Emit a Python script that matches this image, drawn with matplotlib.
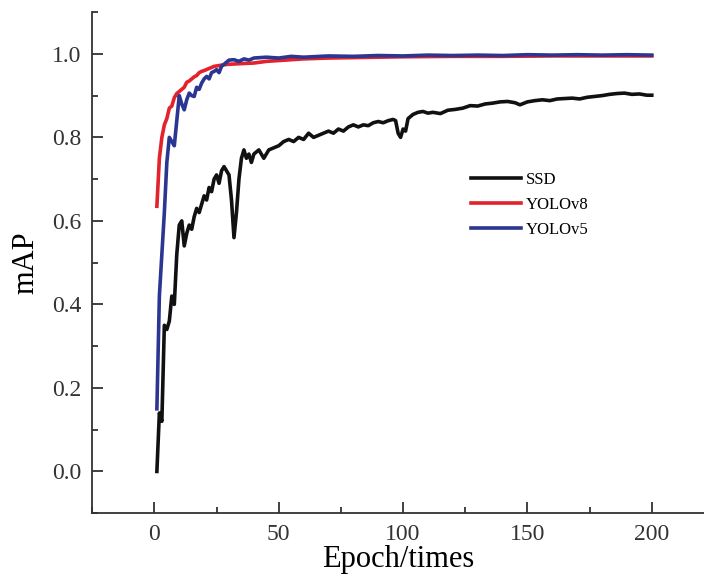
import matplotlib
matplotlib.use("Agg")
import matplotlib.pyplot as plt
from matplotlib.ticker import MultipleLocator

plt.rcParams["font.family"] = ["Liberation Serif", "DejaVu Serif"]

# SSD
ssd_epoch = [1, 2, 3, 4, 5, 6, 7, 8, 9, 10, 11, 12, 13, 14, 15, 16, 17, 18, 19, 20,
             21, 22, 23, 24, 25, 26, 27, 28, 29, 30, 31, 32, 33, 34, 35, 36, 37, 38, 39, 40,
             42, 44, 46, 48, 50, 52, 54, 56, 58, 60, 62, 64, 66, 68, 70, 72, 74, 76, 78, 80,
             82, 84, 86, 88, 90, 92, 94, 96, 97, 98, 99, 100, 101, 102, 104, 106, 108, 110, 112, 115,
             118, 121, 124, 127, 130, 133, 136, 139, 142, 145, 147, 150, 153, 156, 159, 162, 165, 168, 171, 174,
             177, 180, 183, 186, 189, 192, 195, 198, 200]
ssd_map = [0.00, 0.14, 0.12, 0.35, 0.34, 0.36, 0.42, 0.40, 0.52, 0.59, 0.60, 0.54, 0.57, 0.59, 0.58, 0.61, 0.63, 0.62, 0.64, 0.66,
           0.65, 0.68, 0.67, 0.70, 0.71, 0.69, 0.72, 0.73, 0.72, 0.71, 0.65, 0.56, 0.62, 0.70, 0.75, 0.77, 0.75, 0.76, 0.74, 0.76,
           0.77, 0.75, 0.77, 0.775, 0.78, 0.79, 0.795, 0.79, 0.80, 0.795, 0.81, 0.80, 0.805, 0.81, 0.815, 0.81, 0.82, 0.815, 0.825, 0.83,
           0.825, 0.83, 0.828, 0.835, 0.838, 0.835, 0.84, 0.843, 0.84, 0.81, 0.80, 0.82, 0.815, 0.845, 0.855, 0.86, 0.862, 0.858, 0.86, 0.857,
           0.865, 0.867, 0.87, 0.876, 0.875, 0.88, 0.882, 0.885, 0.886, 0.883, 0.878, 0.885, 0.888, 0.89, 0.888, 0.892, 0.893, 0.894, 0.892, 0.896,
           0.898, 0.90, 0.903, 0.905, 0.906, 0.903, 0.904, 0.901, 0.901]

# YOLOv8
v8_epoch = [1, 2, 3, 4, 5, 6, 7, 8, 9, 10, 11, 12, 13, 14, 15, 16, 17, 18, 19, 20,
            22, 24, 26, 28, 30, 33, 36, 40, 45, 50, 55, 60, 70, 80, 90, 100, 120, 140, 160, 180, 200]
v8_map = [0.635, 0.75, 0.80, 0.83, 0.845, 0.87, 0.875, 0.895, 0.905, 0.91, 0.915, 0.92, 0.932, 0.935, 0.94, 0.945, 0.948, 0.955, 0.958, 0.96,
          0.965, 0.97, 0.972, 0.974, 0.975, 0.976, 0.977, 0.978, 0.982, 0.984, 0.986, 0.988, 0.99, 0.991, 0.992, 0.993, 0.994, 0.994, 0.995, 0.995, 0.995]

# YOLOv5
v5_epoch = [1, 2, 3, 4, 5, 6, 7, 8, 9, 10, 11, 12, 13, 14, 15, 16, 17, 18, 19, 20,
            21, 22, 23, 24, 25, 26, 27, 28, 29, 30, 32, 34, 36, 38, 40, 45, 50, 55, 60, 70,
            80, 90, 100, 110, 120, 130, 140, 150, 160, 170, 180, 190, 200]
v5_map = [0.15, 0.42, 0.52, 0.62, 0.74, 0.80, 0.79, 0.78, 0.84, 0.90, 0.88, 0.866, 0.89, 0.906, 0.90, 0.898, 0.92, 0.915, 0.93, 0.94,
          0.946, 0.94, 0.955, 0.958, 0.962, 0.955, 0.97, 0.975, 0.98, 0.985, 0.986, 0.982, 0.988, 0.985, 0.99, 0.992, 0.99, 0.994, 0.992, 0.995,
          0.994, 0.996, 0.995, 0.997, 0.996, 0.997, 0.996, 0.998, 0.997, 0.998, 0.997, 0.998, 0.997]

fig = plt.figure(figsize=(7.04, 5.76), dpi=100)
ax = fig.add_axes([0.131, 0.109, 0.869, 0.870])

ax.plot(ssd_epoch, ssd_map, color="#111111", lw=2.6, label="SSD")
ax.plot(v8_epoch, v8_map, color="#e2222c", lw=2.6, label="YOLOv8")
ax.plot(v5_epoch, v5_map, color="#2b3592", lw=2.6, label="YOLOv5")

ax.set_xlim(-25, 221)
ax.set_ylim(-0.1, 1.1)
ax.xaxis.set_major_locator(MultipleLocator(50))
ax.xaxis.set_minor_locator(MultipleLocator(25))
ax.yaxis.set_major_locator(MultipleLocator(0.2))
ax.yaxis.set_minor_locator(MultipleLocator(0.1))
ax.yaxis.set_major_formatter(plt.FormatStrFormatter("%.1f"))

ax.spines["top"].set_visible(False)
ax.spines["right"].set_visible(False)
for s in ("left", "bottom"):
    ax.spines[s].set_linewidth(1.3)
    ax.spines[s].set_color("#333333")

ax.tick_params(which="both", direction="in", colors="#333333", width=1.3)
ax.tick_params(which="major", length=8, labelsize=17, pad=8)
ax.tick_params(which="minor", length=4)

ax.set_xlabel("Epoch/times", fontsize=22, labelpad=0)
ax.set_ylabel("mAP", fontsize=22, labelpad=8)

ax.legend(loc="upper left", bbox_to_anchor=(0.608, 0.695), frameon=False,
          fontsize=12, handlelength=3.0, handletextpad=0.3, labelspacing=0.55,
          borderaxespad=0)

fig.savefig("out.png", dpi=100)
